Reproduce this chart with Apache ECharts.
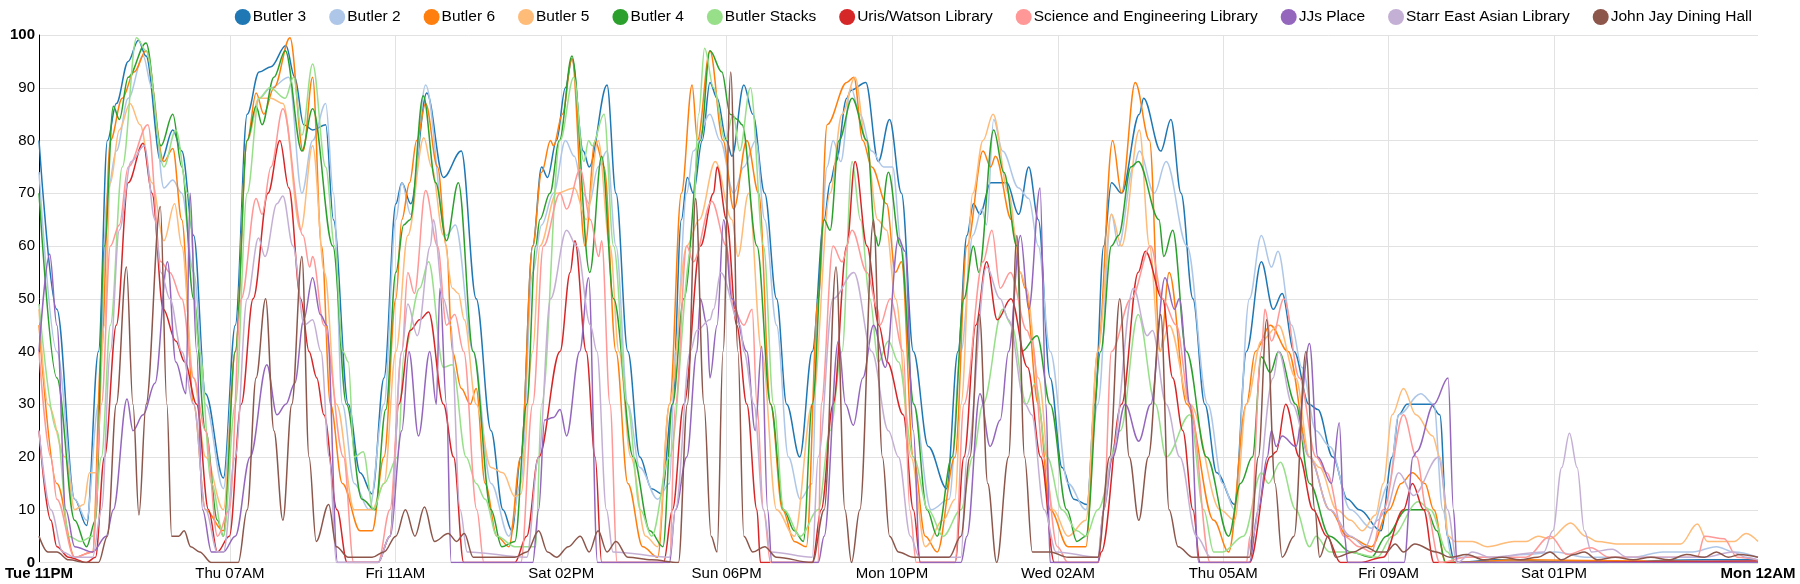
<!DOCTYPE html>
<html>
<head>
<meta charset="utf-8">
<script src="https://cdn.jsdelivr.net/npm/echarts@6/dist/echarts.min.js"></script>
<style>
html,body{margin:0;padding:0;background:#fff;}
#chart{width:1800px;height:584px;}
</style>
</head>
<body>
<div id="chart"></div>
<script>
// x = hours since Tue 11PM
const SERIES_NAMES = ['Butler 3','Butler 2','Butler 6','Butler 5','Butler 4','Butler Stacks','Uris/Watson Library','Science and Engineering Library','JJs Place','Starr East Asian Library','John Jay Dining Hall'];
const COLORS = ['#1f77b4','#aec7e8','#ff7f0e','#ffbb78','#2ca02c','#98df8a','#d62728','#ff9896','#9467bd','#c5b0d5','#8c564b'];
const GRID_HOURS = [32.1, 59.9, 87.8, 115.6, 143.4, 171.3, 199.1, 226.9, 254.7];
const LABEL_HOURS = [0, 32.1, 59.9, 87.8, 115.6, 143.4, 171.3, 199.1, 226.9, 254.7, 289];
const TICK_LABELS = ['Tue 11PM','Thu 07AM','Fri 11AM','Sat 02PM','Sun 06PM','Mon 10PM','Wed 02AM','Thu 05AM','Fri 09AM','Sat 01PM','Mon 12AM'];
const Y_TICKS = [0,10,20,30,40,50,60,70,80,90,100];

const BUTLER_3 = [[0,80],[3,48],[6,12],[8,7],[10,40],[11.5,80],[13,87],[15,95],[16.7,99],[18,96],[20.5,76],[22.5,82],[24,78],[26,62],[28,32],[31,16],
[33,45],[35,85],[37,93],[39,94],[41.5,98],[43,92],[44.5,83],[46,82],[48.2,83],[49.5,65],[52,30],[54,17],[56,13],
[58,35],[60,68],[61,72],[62.5,68],[65.2,89],[68,73],[71,78],[73.5,50],[76,25],[78,10],[79.5,6],
[81,20],[83,60],[84.5,75],[85.5,73],[87,80],[88.5,90],[89.6,95.5],[91.5,78],[92.5,75],[95.5,90.5],[97,70],[99,40],[101,20],[103,14],[104.7,13],
[106.5,30],[108,65],[109,73],[110,70],[111.5,80],[112.8,91],[114,88],[115.6,80],[116.5,77],[118.5,90.5],[120,85],[122,70],[124,50],[125.7,30],[127.9,20],
[130,40],[132,65],[133,72],[134,76],[135.8,88],[136.5,89.5],[139,91],[141.1,76],[143,84],[145,70],[147,40],[149.5,22],[152.6,14],
[154.5,40],[156,62],[157.1,68],[158.2,66],[160,72],[162.7,72],[164.7,66],[166.4,75],[168,65],[170,35],[172,18],[174,12],[176.2,11],
[177.5,30],[179,60],[180.3,72],[182,70],[185,85],[185.7,88],[188.6,78],[190.3,84],[192,70],[194,50],[196,30],[198,17],[201,11],
[203,40],[205.5,57],[207.5,48],[209,51],[211,40],[213.5,30],[215,29],[217.5,20],[220,12],[222,10],[225.6,6],
[227.5,20],[228.6,28],[230,30],[234,30],[235.5,28],[236.8,5],[238,0],[245,0.5],[260,0],[280,0.5],[289,0.5]];

const BUTLER_2 = [[0,74],[3,40],[6,12],[8,8],[10,30],[11.5,70],[13,78],[15,88],[17.5,96],[19,90],[21,71],[22.5,72.5],[24,70],[26,55],[28,30],[31,14],
[33,40],[35,80],[37,88],[39,90],[42,92],[44.2,70],[46,80],[48.2,87],[49.5,70],[51,30],[53,15],[55.5,10],
[58,30],[60,65],[61,72],[62.5,66],[65,90.5],[68.5,62],[70,64],[73,40],[76,15],[79,5],
[81,15],[83,55],[84.5,64],[86.5,70],[88.5,80],[90,77],[91.5,70],[92.5,68],[94,75],[95.5,78],[97,60],[99,30],[101,18],[104,12],
[106,15],[107,40],[108.9,70],[110,78],[112.8,85],[114.5,80],[116.8,70],[118.5,75],[120.5,80],[122,65],[124,45],[126,20],[128,12],
[130,15],[131,50],[132.5,75],[133.5,80],[134.8,76],[136.5,90],[138,85],[140,78],[142,75],[143.5,75],[145,60],[147,30],[150,10],[153,12],
[155,40],[157,62],[158.5,67],[159.3,64],[160.5,84],[162,78],[164.7,71],[166.4,69],[168,60],[170,40],[173,15],[176,10],
[178,30],[180.3,66],[181.5,60],[184,75],[185,78],[187.5,70],[189.5,76],[193,60],[196.5,30],[199,15],[201,10],
[203.5,50],[205.5,62],[207.2,56],[208.3,59],[210.6,45],[212.3,37],[214.7,25],[217,22],[220.5,10],[224,6.5],
[227,15],[228.6,28],[232.3,32],[234.5,30],[236,10],[237.5,1],[245,1],[250,1.5],[255,2],[260,1],[268,1],[273,2],[278,2],[282,3],[285,2],[289,1]];

const BUTLER_6 = [[0,45],[3,15],[6,1],[9,2],[10.5,40],[12,80],[14,88],[16,93],[18,97],[21,76],[22.5,78.5],[24,65],[26,30],[28,10],[31,6],
[33,40],[35,80],[36.5,89],[37.8,85],[39.5,90],[42.2,99.5],[44.4,78],[46,92],[47.5,60],[49,30],[51,15],[54,6],[56,6],
[58,20],[60,50],[61,65],[62.3,72],[63.5,80],[65,87],[67,75],[68.5,60],[69.5,40],[71,33],[72.5,30],[73.5,33],[75,15],[77,5],[79,3],
[81,20],[83,60],[84.5,74],[86,80],[86.5,79],[88,85],[89.6,95.5],[91.8,60],[93.5,80],[95,75],[97,40],[99,15],[101.5,3],[104,1],
[106,30],[108,70],[109.8,90.5],[110.7,80],[112.8,97],[115,80],[116.8,67],[119,80],[121,70],[123,30],[125,10],[127,4],[129,3],
[131,50],[132.5,83],[135.8,91],[137,92],[138.5,80],[140,75],[142.5,68],[144,55],[145,57],[147,20],[149,5],[151,2],
[154,20],[156,60],[158.7,78],[160,75],[160.8,77],[163.5,65],[165,55],[165.8,52],[168,30],[170,10],[173,3],[176,3],
[178,40],[180.5,80],[182,70],[184.3,91],[186.7,80],[188.5,40],[190,55],[193,30],[197.5,8],[200,2],
[203,30],[204.5,40],[207,45],[210,40],[213.6,20],[217,10],[220,5],[224,3],
[227,10],[229,15],[230.9,17],[233,15],[234.5,10],[236.5,0],[250,0.5],[270,0.3],[289,0]];

const BUTLER_5 = [[0,48],[1.5,30],[4.4,20],[6,10],[7.5,11],[8.5,17],[9.6,17],[11,45],[12,72],[13.5,82],[15.3,87],[17,83],[19,72],[21,61],[22.8,68],[24,60],[26,35],[28,20],[31,10],
[33,40],[35,80],[37,88],[39,88],[41,87],[44,63],[46,79],[48,55],[50,30],[53,10],[56,10],
[58,15],[60,40],[62,62],[64.7,80.5],[66,75],[68,62],[69.5,52],[70.5,51],[71.5,46],[73.5,30],[76,18],[78,17],[80,12.5],[81,13],
[83,40],[84.2,60],[87,70],[90,71],[92,65],[94,80],[96,60],[97.5,40],[99.5,20],[102,5],[104,3],
[106,30],[108.9,60],[111,65],[113.7,76],[116.5,65],[117.5,58],[119.3,70],[121.5,40],[124,10],[127,5],
[130,30],[133,70],[135,85],[137.2,92],[139,80],[141,65],[142.5,63],[144,50],[146.6,20],[149,3],[152,8],[154,12],
[155,30],[157,70],[158.7,80],[160.4,85],[163,70],[165,55],[166,52],[168,35],[170.5,10],[173,5],[176,8],
[178,40],[180.3,66],[182,60],[185,82],[186.7,60],[188.4,40],[190,45],[193.5,30],[198.6,10],[201,8],
[203,30],[205.5,42],[208.4,45],[211.3,35],[213.6,20],[215.3,18],[218.2,10],[220.5,8],[222.5,6],[224.7,9],
[226,15],[227.5,28],[229.4,33],[231.5,28],[234.3,24],[235.5,20],[237,5],[238,4],[241,4],[243.5,3],[248,4],[250,4],[252,5],[254,4.5],[257.5,7.5],[260,5],[262,4],[265.5,3.5],[270,3.5],[276,3.5],[278.8,7.3],[280.5,4],[285,4],[287,5.5],[289,4]];

const BUTLER_4 = [[0,70],[3,35],[6,8],[8,3],[9.5,8],[11,60],[12.5,86.5],[13.5,84],[15,92],[18,98.5],[20.5,79],[22.5,85],[24,75],[26,50],[28,25],[30,8],[31,5],
[33,40],[35,80],[36.5,86.5],[37.5,83],[39.5,92],[41.4,97],[44.2,78],[46,86],[49.4,60],[51.7,30],[54.3,12],[56.5,10],
[58.3,29],[60,55],[61.3,64],[62.4,65],[64.6,88.5],[66.7,72],[68.5,61],[70.5,72],[73,40],[76,10],[77.8,3],[80,4],
[82,30],[83.5,60],[84.2,65],[85.9,70],[87.5,80],[89.6,96],[92.6,55],[94.6,77],[96.6,50],[99.9,20],[102.7,6],[104.9,3],
[106.5,30],[108.4,50],[111.2,80],[112.8,97],[114.8,93],[116.2,85],[117.4,84],[118.2,83],[120.7,60],[123,30],[125.2,10],[127,6],[128.5,4],
[130,30],[132,65],[133,63],[134.5,80],[136.7,88],[139.2,80],[140.6,62],[141.1,60],[142.8,74],[144.8,60],[147.1,30],[149.3,10],[151,5],
[153.5,20],[155.5,50],[157.1,60],[158,55],[160.5,82],[162.2,74],[164.4,60],[165.2,40],[167.8,43],[170,30],[172.8,10],[174.5,4],
[176,5],[178.5,40],[180.3,60],[181.5,62],[183.6,75],[184.8,76],[188.3,65],[189.1,58],[190.6,63],[192.9,40],[196.3,20],[200,5],
[202,15],[204,20],[205.5,39],[207,36],[208.4,40],[211.3,30],[213.6,15],[217,5],[220.5,2],[224,1],
[226.5,5],[229.9,10],[233.3,10],[235,6],[236.5,0],[289,0]];

const BUTLER_STACKS = [[0,49],[3,25],[5,5],[7,4],[9,5],[10.5,20],[12,45],[14,75],[16.4,99.5],[18,97],[21,75],[23,82],[25,70],[27,40],[29,15],[31,5],
[33,30],[35,70],[37,88],[38.8,90],[41.4,88],[42.8,92],[44.2,81],[46,94.5],[48.2,75],[49.7,60],[51.1,40],[52,38],[53,20],[54.5,21],[56.2,10],
[58,15],[60.3,20],[61.4,40],[64,52],[65.5,57],[68,37],[69.5,37.5],[71.8,20],[73.5,15],[75,12],[77,5],[80,3],
[83.5,3],[84.5,30],[87.6,80],[89.9,92],[91.6,76],[92.4,80],[93,79],[95,85],[96.6,60],[98.9,30],[101.1,10],[103,5],
[106,20],[109.8,60],[110.9,85],[111.9,97.5],[113.4,90],[115.4,80],[116.7,85],[117.8,78],[119.6,90],[121.8,60],[123.5,30],[125.2,10],[128,5],
[131,10],[133,25],[135,40],[136.7,76],[138.1,65],[139.7,50],[141.1,38],[142.8,42],[144.5,38],[147,20],[149.5,10],[152,5],
[155,10],[157,20],[158.7,30],[162,48],[163.5,45],[166,30],[167.5,34],[169.5,20],[172,10],[174.5,6],[176,5],
[178,10],[181.8,25],[184.8,47],[187.7,30],[189.5,20],[193.5,28],[195.8,10],[197.5,2],[199,2],
[202.5,5],[205.5,17],[206.7,15],[208.7,19],[211.3,10],[213.6,3],[214.7,5],[217,2],[220,2],
[225,1],[227.5,5],[231.9,11.5],[233.9,10],[236.8,2],[238,0],[289,0]];

const URIS_WATSON = [[0,25],[2,8],[3,3],[5,1],[8,0],[9.5,1],[11,20],[13,45],[15,72],[17.5,79.5],[19,70],[20.9,48],[23,42],[24.5,38],[26.5,30],[28.5,10],[30,2],
[32,5],[34,30],[36,50],[38.5,70],[40.5,80],[42,71],[44,50],[45.4,40],[46.7,35],[47.9,28],[50.1,10],[51.8,0],[57,0],
[59,5],[60.5,30],[62.4,44],[64,46],[65.5,47.5],[68,30],[69.7,20],[71.4,0],[80,0],
[82,5],[84,20],[87.6,40],[89.3,55],[90.1,61],[92,40],[93.5,20],[94.6,0],[105,0],
[106.5,10],[108.4,30],[111.2,60],[113.4,70],[114,75],[115.6,65],[117.3,45],[119,30],[120.7,10],[121.3,0],[130,0],
[131.5,10],[133.5,30],[135.8,60],[137.2,76],[139.2,60],[141.2,45],[142.6,38],[145.3,28],[147,10],[148.2,0],[154,0],
[155.5,20],[157.5,45],[159.3,57],[161.1,46],[163.4,50],[166.2,37],[168.4,20],[170.7,0],[178,0],
[178.6,2],[182,30],[184.8,55],[186,59],[188.9,50],[190.6,35],[192.3,25],[194,10],[195.2,0],[202,0],
[203.5,0],[207,20],[208,21],[209.6,30],[211.9,20],[214.2,10],[216.5,5],[218.8,0],[222,0],
[226,1],[229.4,10],[230.9,15],[232.8,10],[234.5,0],[289,0.3]];

const SCIENCE_ENG = [[0,40],[2,20],[3,12],[6,1],[9,2],[10.5,30],[12,60],[13.5,64],[15,75],[18.3,83],[20.5,57],[22,55],[24,50],[26,35],[28,25],[30,5],
[32,10],[34,50],[36.5,69],[37.5,66],[39,75],[41,86],[44.4,62],[45.5,56],[46,58],[47.9,45],[51.2,20],[52.9,0],[57,0],
[59,10],[61,40],[62,55],[63.1,51],[65,70.5],[67,60],[68.5,45],[69.9,47],[71.4,40],[73.6,10],[74.8,0],[81,0],
[83,30],[84.8,60],[87.6,70],[88.7,67],[91,74.5],[92.7,65],[94.1,58],[94.6,61],[96,30],[97.2,0],[106,0],
[107,30],[108.9,60],[110,57],[113.1,68.5],[115.6,60],[116.8,48],[118.5,45],[119.9,48],[120.7,30],[121.8,10],[123,0],[131,0],
[131.5,30],[133.5,60],[135,57],[136.7,63],[139.2,55],[141,48],[141.4,45],[143.1,50],[145.3,40],[146.4,10],[147.5,0],[154,0],
[155.5,30],[158.7,57],[160.2,63],[161.6,52],[163.3,55],[166.1,44],[166.9,42],[168.9,20],[171.2,3],[173,0],[178,0],
[179,10],[180.3,40],[183.6,50],[186.9,60],[188.9,50],[191.2,45],[193.5,30],[196.9,0],[203,0],
[203.6,5],[205.5,40],[206.1,48],[207.2,42],[209.3,50],[211.9,35],[214.7,20],[216.5,17],[219.4,5],[222,3],[224,2],
[226,10],[229.4,28],[231.6,20],[233.3,10],[235.5,0],[240,1],[250,1],[254.1,5],[256.9,1.5],[260.9,2.8],[264,1],[275,1],[278.8,1],[280,5],[283.3,4.5],[285.5,1],[289,0.5]];

const JJS_PLACE = [[0,40],[1.8,58.5],[3,45],[4.5,10],[6,3],[9,2],[11.3,5],[12.5,10],[14.8,31],[15.8,25],[17.5,28],[19.5,34],[21.6,57],[23,38],[24.7,32],[25.4,70],[26.5,40],[27.5,10],[29,2],[31,2],
[33,5],[35.5,20],[38.3,37.5],[40,28],[41.5,30],[43,34],[44.5,46],[46,54],[47.3,47],[48.4,45],[50.2,0],[57,0],
[59,5],[61,25],[62.2,40],[63.8,24],[65.7,40],[66.8,30],[67.4,52],[68.5,30],[69.3,0],[83,0],
[84,10],[85,27],[86.5,27.5],[87.6,29],[88.7,24],[90.9,40],[92.4,54],[93.9,0],[106,0],
[107,10],[108.9,20],[110.6,40],[111.2,50],[112.3,45],[112.8,35],[114,45],[115.1,65],[116.5,50],[119,40],[120.4,25],[121.5,41],[122.5,10],[123.2,0],[131,0],
[132,5],[134.4,42],[135.6,30],[136.9,26],[138.5,35],[140.3,45],[142.3,37],[144.5,61.5],[145.6,59],[147,25],[148.1,0],[155,0],
[156,5],[158.2,32],[159.9,22],[161.6,27],[163,40],[165,62],[166.4,48],[168.3,71],[169.3,30],[170,0],[178,0],
[179,10],[180.5,20],[182.6,30],[184.9,23],[186.9,30],[189.3,54],[190.9,48],[191.7,50],[193.5,30],[195,0],[202,0],
[203.5,0],[205,10],[206.5,20],[207.2,25],[208,22],[209,24],[211.3,22],[213.6,41.5],[215,20],[217.3,15],[218.6,26.5],[219.5,5],[220,0],[229.5,0],
[231,20],[231.6,21],[234.5,30],[236.9,35],[237.8,10],[238.4,0],[289,0]];

const STARR_EAST_ASIAN = [[0,25],[2,10],[4,2],[6,1],[9,1],[10.5,10],[12,40],[13.5,63],[15.5,76],[17.7,79],[19.5,65],[20.5,55],[22,50],[24,40],[26,30],[28,10],[30,2],
[31,2],[33,20],[35,50],[36.9,61.5],[38,58],[40,68],[41,69.5],[42.7,60],[44.6,45],[46,46],[47.4,40],[48.8,20],[50,0],[57,0],
[59,5],[61,40],[62,49],[63.6,43],[65.8,60],[66.3,65],[68,50],[69.2,45],[70.8,10],[72,2],[82,1],
[84,20],[86,50],[88.7,63],[90.4,60],[92.7,45],[93.8,40],[95.4,10],[96.5,2],[106,1],
[107,10],[109.5,40],[110.6,44],[112.8,46],[113.4,48],[114.6,55],[117.9,45],[118.5,40],[120.2,30],[121.8,10],[123,2],[130,1],
[131,20],[133.5,50],[137,55],[140,40],[142.8,25],[144.5,20],[146.5,5],[148,1],[155,1],
[156,20],[159.3,56],[161.6,50],[163,46],[165.8,30],[166.9,28],[169,10],[171,2],[178,1],
[179,10],[180.3,20],[184,52],[186.3,43],[187.2,44],[189.5,30],[191.8,20],[194.6,5],[197,1],[203,1],
[204,5],[207.5,35],[208.4,40],[210.7,30],[213.6,20],[217,10],[220.5,5],[223,3],[225,8],
[226.5,10],[228.6,17],[231.1,12.7],[235.3,20],[236.8,10],[238.4,0],[241,2],[244,1],[253,2],[254.5,6],[256,18],[257.3,24.5],[258.6,18],[259.8,6],[261,2],[264.5,2.5],[267,1],[280,1],[284.8,2],[287,1],[289,0.5]];

const JOHN_JAY = [[0,5],[1.5,2],[3,2],[5,0.5],[8,0],[10,0],[11.5,5],[13,30],[14.7,56],[15.8,30],[16.8,9],[18,30],[20.4,67.5],[21.5,30],[22.3,5],[23.5,5],[24.4,6],[25.5,3],[27,2],[29,0],
[33.5,0],[35,10],[36.5,35],[38.1,50],[39.5,25],[41,8],[42.5,30],[44.2,58],[45.4,20],[46.6,4],[48.7,11],[50,3],[52,1],[56,1],
[58,2],[60,5],[61.6,10],[63.2,5],[64.8,10.5],[66.5,4],[68.8,5.5],[70.2,4],[71.5,5.5],[73,1],[76,1],[78,1],[80,1],
[82,2],[84,6],[85.5,2],[87,1],[89,3],[91,5],[92.5,2],[94,6],[95.5,2],[97,4],[99,1],[103,0.5],[107.5,0],
[109,30],[110.4,69],[111.8,30],[113,5],[114,2],[115,40],[116.3,93],[117.5,40],[118.5,5],[120,2],[122,3],[124,1],[130,0],
[132,10],[134,56],[135.5,10],[136.6,0],[138,10],[140.3,65],[141.8,20],[143,5],[144.5,2],[147,1],[150,1],
[153,1],[155,5],[156.5,20],[158.1,47],[159.5,15],[161,0],[163,20],[164.4,62],[165.7,20],[167,2],[170,2],[173,1],[176,1],
[178,1],[180,20],[181.7,50],[183.3,20],[184.9,8],[186.5,20],[188.6,47],[190,10],[191.5,3],[194,1],[200,1],
[203.5,1],[205,20],[206.4,46],[207.8,15],[209,1],[211,5],[213,40],[214.5,10],[215.3,1],[216.7,5],[218,1],[221,2],[223,3],
[225,2],[226.5,2],[228,3.5],[229.4,2],[231.3,3.5],[234.9,2],[237.2,1],[240,1.5],[243,0.5],[246,1],[249,0.5],[252,1],[254,2],[256,0.5],[258,1.5],[259.8,2],[262,0.5],[265,1],[268,0.5],[271,1],[274,0.5],[277,1.5],[280,1],[282,2],[284,1],[286,1.5],[289,1]];

const SERIES_DATA = [BUTLER_3, BUTLER_2, BUTLER_6, BUTLER_5, BUTLER_4, BUTLER_STACKS, URIS_WATSON, SCIENCE_ENG, JJS_PLACE, STARR_EAST_ASIAN, JOHN_JAY];

const FONT = '"Liberation Sans", Arial, Helvetica, sans-serif';
const chart = echarts.init(document.getElementById('chart'), null, {renderer: 'canvas'});

const option = {
  animation: false,
  color: COLORS,
  textStyle: {fontFamily: FONT},
  legend: {
    data: SERIES_NAMES,
    top: 4,
    right: 43,
    icon: 'circle',
    itemWidth: 16,
    itemHeight: 16,
    itemGap: 23,
    textStyle: {fontFamily: FONT, fontSize: 15.5, color: '#000', padding: [0,0,0,-3]}
  },
  grid: {left: 39, right: 42, top: 35, bottom: 21.5, containLabel: false},
  xAxis: {
    type: 'value',
    min: 0,
    max: 289,
    axisLine: {show: true, lineStyle: {color: '#e2e2e2', width: 1}},
    axisTick: {show: false, customValues: GRID_HOURS},
    splitLine: {show: true, lineStyle: {color: '#e2e2e2', width: 1}},
    axisLabel: {
      customValues: LABEL_HOURS,
      hideOverlap: false,
      margin: 4,
      color: '#000',
      fontFamily: FONT,
      fontSize: 15,
      formatter: function (v) {
        let idx = 0, best = 1e9;
        LABEL_HOURS.forEach(function (h, i) { const d = Math.abs(h - v); if (d < best) { best = d; idx = i; } });
        const t = TICK_LABELS[idx];
        return (idx === 0 || idx === LABEL_HOURS.length - 1) ? '{b|' + t + '}' : t;
      },
      rich: {b: {fontWeight: 'bold', fontFamily: FONT, fontSize: 15, color: '#000'}}
    }
  },
  yAxis: {
    type: 'value',
    min: 0,
    max: 100,
    interval: 10,
    axisLine: {show: true, lineStyle: {color: '#000', width: 1}},
    axisTick: {show: false},
    splitLine: {show: true, lineStyle: {color: '#e2e2e2', width: 1}},
    axisLabel: {
      margin: 4,
      color: '#000',
      fontFamily: FONT,
      fontSize: 15,
      formatter: function (v) {
        return (v === Y_TICKS[0] || v === Y_TICKS[Y_TICKS.length - 1]) ? '{b|' + v + '}' : String(v);
      },
      rich: {b: {fontWeight: 'bold', fontFamily: FONT, fontSize: 15, color: '#000'}}
    }
  },
  series: SERIES_NAMES.map(function (name, i) {
    return {
      name: name,
      type: 'line',
      data: SERIES_DATA[i],
      showSymbol: false,
      smooth: 0.35,
      smoothMonotone: 'x',
      clip: true,
      lineStyle: {width: 1.5, color: COLORS[i]},
      itemStyle: {color: COLORS[i]},
      emphasis: {disabled: true}
    };
  })
};
chart.setOption(option);
</script>
</body>
</html>
